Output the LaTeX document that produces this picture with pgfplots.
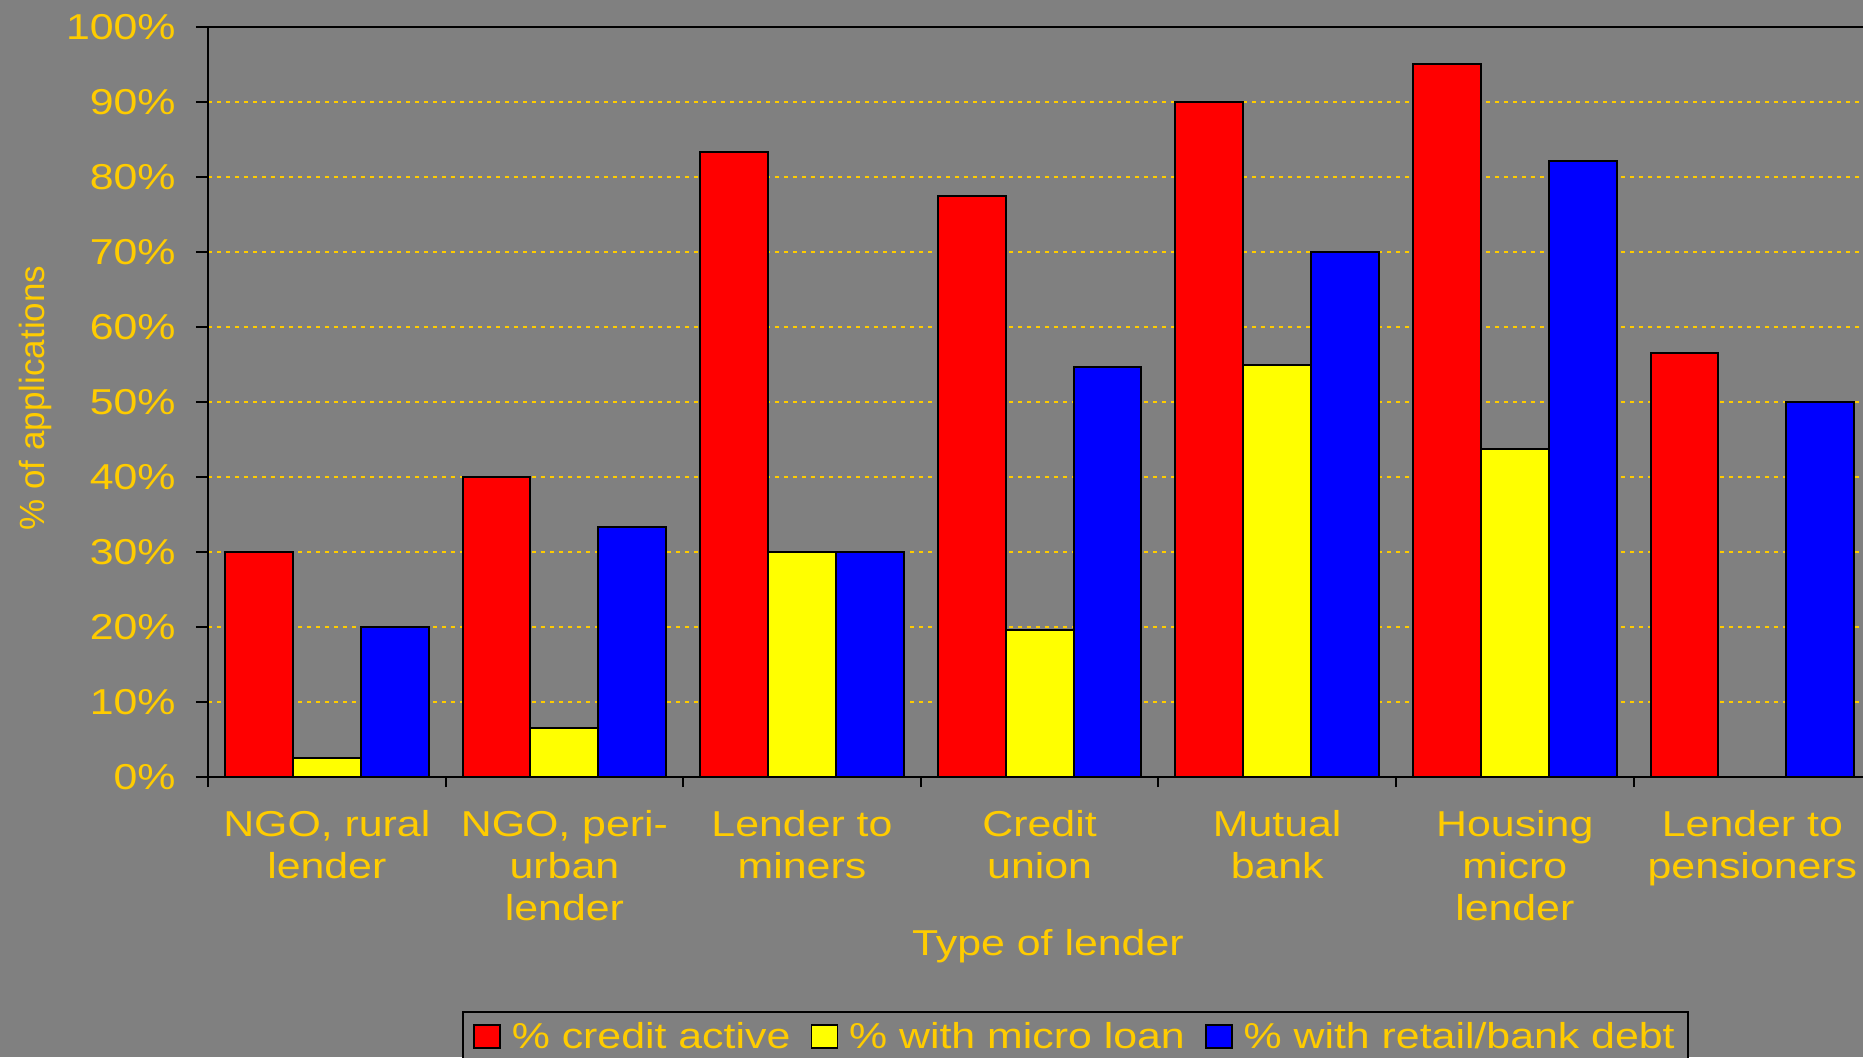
\documentclass[border=0pt]{standalone}
\usepackage{pgfplots}
\pgfplotsset{compat=1.18}
\usepackage{fontspec}
\setmainfont{Liberation Sans}[FakeStretch=1.19]
\newfontfamily\yfont{Liberation Sans}
\definecolor{bg}{HTML}{808080}
\definecolor{gold}{HTML}{FFCC00}
\definecolor{bred}{HTML}{FF0000}
\definecolor{byel}{HTML}{FFFF00}
\definecolor{bblue}{HTML}{0000FF}
\newcommand\cf{\fontsize{18}{21}\selectfont}
\begin{document}
\begin{tikzpicture}
\fill[bg] (0,0) rectangle (931.5pt,528.5pt);
\begin{axis}[
  at={(104pt,140pt)}, anchor=south west,
  scale only axis, width=831.6pt, height=375pt,
  xmin=-0.5, xmax=6.5, ymin=0, ymax=100,
  ybar=0pt, bar width=0.2857,
  axis line style={black, line width=1pt},
  tickpos=left, tick align=outside,
  major tick length=6pt, minor tick length=5pt,
  every tick/.style={black, line width=1pt},
  ytick={0,10,...,100},
  yticklabels={0\%,10\%,20\%,30\%,40\%,50\%,60\%,70\%,80\%,90\%,100\%},
  xtick={0,...,6},
  major x tick style={draw=none},
  minor xtick={-0.5,0.5,...,6.5},
  xticklabels={{NGO, rural\\lender},{NGO, peri-\\urban\\lender},{Lender to\\miners},{Credit\\union},{Mutual\\bank},{Housing\\micro\\lender},{Lender to\\pensioners}},
  x tick label style={font=\cf, text=gold, align=center, inner sep=0pt, yshift=-10.5pt},
  y tick label style={font=\cf, text=gold, inner sep=0pt, xshift=-10pt},
  ymajorgrids,
  grid style={gold, dash pattern=on 2pt off 2.5pt, line width=0.9pt},
  xlabel={Type of lender},
  xlabel style={at={(axis description cs:0.505,-0.226)}, anchor=center, font=\cf, text=gold},
  ylabel={\yfont\fontsize{17.5}{21}\selectfont \% of applications},
  ylabel style={at={(axis description cs:-0.1035,0.5053)}, anchor=center, text=gold},
  legend columns=3,
  legend style={at={(axis description cs:0.5215,-0.312)}, anchor=north,
    fill=bg, draw=black, line width=1pt, text=gold, font=\cf,
    inner xsep=5.2pt, inner ysep=3pt,
    nodes={inner xsep=1.4pt, inner ysep=2pt},
    /tikz/every even column/.append style={column sep=8.7pt}},
]
\addplot[fill=bred, draw=black, line width=1pt,
  legend image code/.code={\draw[fill=bred,draw=black,line width=0.8pt] (0pt,-5.75pt) rectangle (13pt,5.75pt); \path[draw=none,fill=none] (13pt,0pt) -- (17.5pt,0pt);}]
  coordinates {(0,30) (1,40) (2,83.3) (3,77.4) (4,90) (5,95) (6,56.6)};
\addplot[fill=byel, draw=black, line width=1pt,
  legend image code/.code={\draw[fill=byel,draw=black,line width=0.8pt] (0pt,-5.75pt) rectangle (13pt,5.75pt); \path[draw=none,fill=none] (13pt,0pt) -- (17.5pt,0pt);}]
  coordinates {(0,2.6) (1,6.6) (2,30) (3,19.6) (4,55) (5,43.7)};
\addplot[fill=bblue, draw=black, line width=1pt,
  legend image code/.code={\draw[fill=bblue,draw=black,line width=0.8pt] (0pt,-5.75pt) rectangle (13pt,5.75pt); \path[draw=none,fill=none] (13pt,0pt) -- (17.5pt,0pt);}]
  coordinates {(0,20) (1,33.3) (2,30) (3,54.7) (4,70) (5,82.1) (6,50)};
\legend{\% credit active, \% with micro loan, \% with retail/bank debt}
\end{axis}
\pgfresetboundingbox
\path (0,0) rectangle (931.5pt,528.5pt);
\end{tikzpicture}
\end{document}
